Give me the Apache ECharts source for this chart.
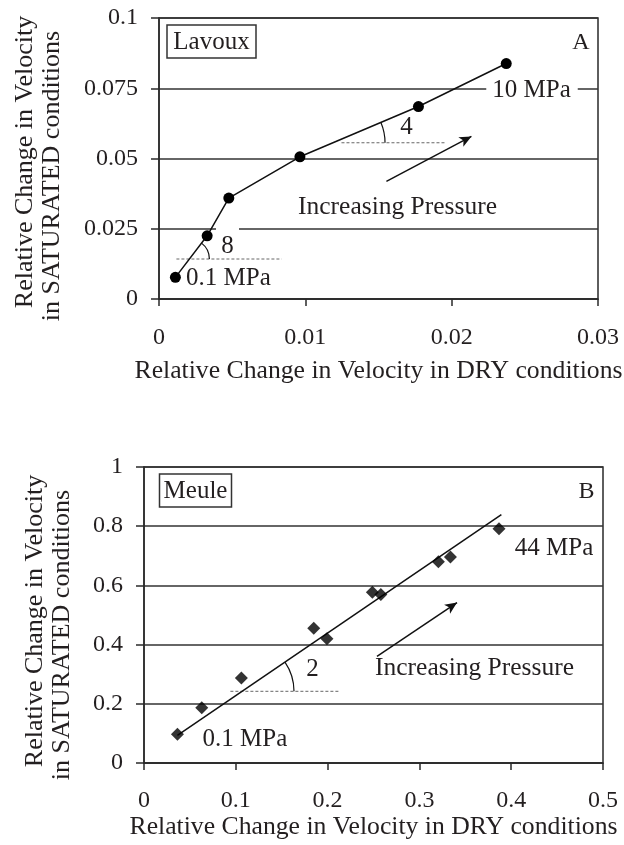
<!DOCTYPE html>
<html>
<head>
<meta charset="utf-8">
<script src="https://cdn.jsdelivr.net/npm/echarts@6/dist/echarts.min.js"></script>
<style>
html,body{margin:0;padding:0;background:#fff;}
#c{width:624px;height:845px;}
</style>
</head>
<body>
<div id="c"></div>
<script>
// ---- Panel A: Lavoux ----
const lavouxDry = [0.00112, 0.00329, 0.00477, 0.00963, 0.01773, 0.02373];
const lavouxSat = [0.0077, 0.0225, 0.0359, 0.0506, 0.0685, 0.0838];
const lavouxXTicks = ['0', '0.01', '0.02', '0.03'];
const lavouxYTicks = ['0', '0.025', '0.05', '0.075', '0.1'];
const lavouxGuide8Dry = [0.00119, 0.00838];
const lavouxGuide8Sat = 0.01423;
const lavouxGuide4Dry = [0.01247, 0.01953];
const lavouxGuide4Sat = 0.0556;
const lavouxArrowDry = [0.01554, 0.02135];
const lavouxArrowSat = [0.04185, 0.05786];

// ---- Panel B: Meule ----
const meuleDry = [0.0364, 0.0629, 0.1061, 0.1849, 0.1993, 0.2488, 0.2580, 0.3207, 0.3338, 0.3867];
const meuleSat = [0.097, 0.187, 0.287, 0.455, 0.420, 0.577, 0.569, 0.680, 0.696, 0.791];
const meuleFitDry = [0.0364, 0.3893];
const meuleFitSat = [0.0936, 0.839];
const meuleXTicks = ['0', '0.1', '0.2', '0.3', '0.4', '0.5'];
const meuleYTicks = ['0', '0.2', '0.4', '0.6', '0.8', '1'];
const meuleGuideDry = [0.0941, 0.2124];
const meuleGuideSat = 0.2422;
const meuleArrowDry = [0.2538, 0.3410];
const meuleArrowSat = [0.3605, 0.5419];

const FONT = "'Liberation Serif', 'Times New Roman', serif";
const TXT = '#231f20';
const LN = '#2a2a2a';

const zip = (a, b) => a.map((v, i) => [v, b[i]]);

const chart = echarts.init(document.getElementById('c'), null, {renderer: 'canvas'});

function xAxisCfg(gi, min, max, interval, ticks, gap, margin) {
  return {
    type: 'value', gridIndex: gi, min: min, max: max, interval: interval,
    name: 'Relative Change in Velocity in DRY conditions',
    nameLocation: 'middle', nameGap: gap,
    nameTextStyle: {fontFamily: FONT, fontSize: 25.7, color: TXT},
    axisLine: {show: true, onZero: false, lineStyle: {color: LN, width: 1.5}},
    axisTick: {show: true, inside: false, length: 7, lineStyle: {color: LN, width: 1.5}},
    axisLabel: {margin: margin, fontFamily: FONT, fontSize: 24, color: TXT,
      formatter: (v, i) => ticks[i] !== undefined ? ticks[i] : ''},
    splitLine: {show: false}
  };
}
function yAxisCfg(gi, min, max, interval, ticks) {
  return {
    type: 'value', gridIndex: gi, min: min, max: max, interval: interval,
    axisLine: {show: true, onZero: false, lineStyle: {color: LN, width: 1.5}},
    axisTick: {show: true, inside: false, length: 8, lineStyle: {color: LN, width: 1.5}},
    axisLabel: {margin: 21, fontFamily: FONT, fontSize: 24, color: TXT,
      formatter: (v, i) => ticks[i] !== undefined ? ticks[i] : ''},
    splitLine: {show: true, lineStyle: {color: '#333', width: 1.5}}
  };
}

function guideSeries(xi, dryArr, sat) {
  return {
    type: 'line', xAxisIndex: xi, yAxisIndex: xi, silent: true, symbol: 'none',
    data: [[dryArr[0], sat], [dryArr[1], sat]],
    lineStyle: {color: '#666', width: 1, type: [3, 2]}, z: 3
  };
}
function arrowSeries(xi, dryArr, satArr) {
  return {
    type: 'line', xAxisIndex: xi, yAxisIndex: xi, silent: true, symbol: 'none',
    data: [],
    markLine: {
      silent: true, symbol: ['none', 'arrow'], symbolSize: [8, 12],
      label: {show: false},
      lineStyle: {color: '#111', width: 1.5, type: 'solid'},
      data: [[{coord: [dryArr[0], satArr[0]]}, {coord: [dryArr[1], satArr[1]]}]]
    }
  };
}

const option = {
  backgroundColor: '#fff',
  animation: false,
  grid: [
    {left: 159, top: 18, width: 439, height: 281, show: true, borderColor: LN, borderWidth: 1.5, backgroundColor: 'transparent', containLabel: false, outerBoundsMode: 'none'},
    {left: 144, top: 467, width: 459, height: 296, show: true, borderColor: LN, borderWidth: 1.5, backgroundColor: 'transparent', containLabel: false, outerBoundsMode: 'none'}
  ],
  xAxis: [
    xAxisCfg(0, 0, 0.03, 0.01, lavouxXTicks, 59, 27),
    xAxisCfg(1, 0, 0.5, 0.1, meuleXTicks, 51, 26)
  ],
  yAxis: [
    yAxisCfg(0, 0, 0.1, 0.025, lavouxYTicks),
    yAxisCfg(1, 0, 1, 0.2, meuleYTicks)
  ],
  series: [
    {
      name: 'Lavoux', type: 'line', xAxisIndex: 0, yAxisIndex: 0,
      data: zip(lavouxDry, lavouxSat),
      symbol: 'circle', symbolSize: 11, showSymbol: true,
      itemStyle: {color: '#000'},
      lineStyle: {color: '#111', width: 1.5}, z: 5
    },
    guideSeries(0, lavouxGuide8Dry, lavouxGuide8Sat),
    guideSeries(0, lavouxGuide4Dry, lavouxGuide4Sat),
    arrowSeries(0, lavouxArrowDry, lavouxArrowSat),
    {
      name: 'Meule fit', type: 'line', xAxisIndex: 1, yAxisIndex: 1,
      data: zip(meuleFitDry, meuleFitSat), symbol: 'none',
      lineStyle: {color: '#111', width: 1.5}, z: 4
    },
    {
      name: 'Meule', type: 'scatter', xAxisIndex: 1, yAxisIndex: 1,
      data: zip(meuleDry, meuleSat),
      symbol: 'diamond', symbolSize: [13, 13],
      itemStyle: {color: '#000'}, z: 5
    },
    guideSeries(1, meuleGuideDry, meuleGuideSat),
    arrowSeries(1, meuleArrowDry, meuleArrowSat)
  ]
};
chart.setOption(option);

// ---- annotations (text, boxes, angle arcs) ----
function px(gi, p) { return chart.convertToPixel({gridIndex: gi}, p); }
function arcAt(gi, a, b, guideSat, r) {
  const A = px(gi, a), B = px(gi, b);
  const gy = px(gi, [0, guideSat])[1];
  const t = (A[1] - gy) / (A[1] - B[1]);
  const cx = A[0] + t * (B[0] - A[0]);
  const ang = Math.atan2(B[1] - A[1], B[0] - A[0]);
  return {
    type: 'arc', silent: true, z: 10,
    shape: {cx: cx, cy: gy, r: r, startAngle: ang, endAngle: 0, clockwise: true},
    style: {stroke: '#111', lineWidth: 1.2, fill: null}
  };
}
function txt(x, y, s, size, opts) {
  return Object.assign({
    type: 'text', x: x, y: y, silent: true, z: 20,
    style: Object.assign({text: s, fontFamily: FONT, fontSize: size, fill: TXT,
      align: 'center', verticalAlign: 'middle'}, (opts && opts.style) || {})
  }, (opts && opts.el) || {});
}

const graphics = [
  // Panel A
  {type: 'rect', silent: true, z: 20, shape: {x: 167, y: 25, width: 89, height: 33},
    style: {stroke: '#333', lineWidth: 1.5, fill: '#fff'}},
  txt(211.5, 42, 'Lavoux', 25),
  txt(581, 43, 'A', 24),
  txt(532, 90, '10 MPa', 25, {style: {backgroundColor: '#fff', padding: [2, 7, 2, 6]}}),
  txt(186, 278, '0.1 MPa', 25, {style: {align: 'left'}}),
  {type: 'rect', silent: true, z: 15, shape: {x: 216, y: 225, width: 23, height: 9},
    style: {fill: '#fff', stroke: null}},
  txt(227.5, 246.5, '8', 25),
  txt(406.5, 127, '4', 25),
  txt(397.5, 207, 'Increasing Pressure', 25.5),
  arcAt(0, [lavouxDry[0], lavouxSat[0]], [lavouxDry[1], lavouxSat[1]], lavouxGuide8Sat, 20),
  arcAt(0, [lavouxDry[3], lavouxSat[3]], [lavouxDry[4], lavouxSat[4]], lavouxGuide4Sat, 52),
  txt(25, 162, 'Relative Change in Velocity', 26, {el: {rotation: Math.PI / 2}}),
  txt(52, 176, 'in SATURATED conditions', 26, {el: {rotation: Math.PI / 2}}),
  // Panel B
  {type: 'rect', silent: true, z: 20, shape: {x: 159.5, y: 474, width: 72, height: 33},
    style: {stroke: '#333', lineWidth: 1.5, fill: '#fff'}},
  txt(195.5, 491, 'Meule', 25),
  txt(586.5, 492, 'B', 24),
  txt(554, 548.5, '44 MPa', 25),
  txt(202.5, 739.5, '0.1 MPa', 25, {style: {align: 'left'}}),
  txt(312.5, 669.5, '2', 25),
  txt(474.5, 668.5, 'Increasing Pressure', 25.5),
  arcAt(1, [meuleFitDry[0], meuleFitSat[0]], [meuleFitDry[1], meuleFitSat[1]], meuleGuideSat, 52),
  txt(35, 621, 'Relative Change in Velocity', 26, {el: {rotation: Math.PI / 2}}),
  txt(62, 635, 'in SATURATED conditions', 26, {el: {rotation: Math.PI / 2}})
];
chart.setOption({graphic: graphics});
</script>
</body>
</html>
